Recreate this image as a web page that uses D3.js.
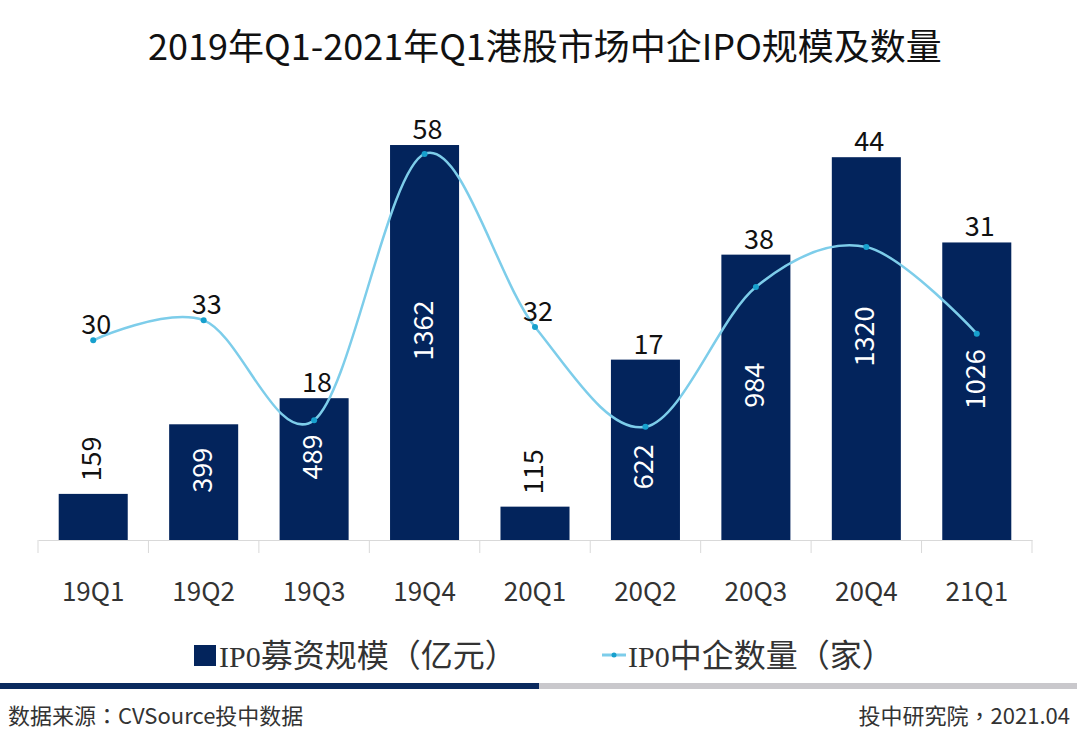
<!DOCTYPE html>
<html><head><meta charset="utf-8">
<script src="https://cdn.jsdelivr.net/npm/d3@7"></script>
<style>
html,body{margin:0;padding:0;background:#fff;}
svg{display:block;font-family:"Noto Sans CJK SC","Noto Sans",sans-serif;}
</style></head>
<body>
<svg id="chart" width="1080" height="741"></svg>
<script>
const title = "2019年Q1-2021年Q1港股市场中企IPO规模及数量";
const categories = ["19Q1","19Q2","19Q3","19Q4","20Q1","20Q2","20Q3","20Q4","21Q1"];
const ipoAmount = [159,399,489,1362,115,622,984,1320,1026];
const ipoCount = [30,33,18,58,32,17,38,44,31];
const legendBar = ["IP0","募资规模（亿元）"];
const legendLine = ["IP0","中企数量（家）"];
const sourceText = "数据来源：CVSource投中数据";
const creditText = "投中研究院，2021.04";

const svg = d3.select("#chart");
const barColor = "#03245c", lineColor = "#7dcdea", dotColor = "#17a0cd";
const x = d3.scaleBand().domain(categories).range([38, 1032]).paddingInner(0.375).paddingOuter(0.1875);
const y1 = d3.scaleLinear().domain([0, 1600]).range([540, 76]);
const y2 = d3.scaleLinear().domain([0, 70]).range([540, 74]);

svg.append("text").attr("x", 545).attr("y", 60).attr("text-anchor","middle")
  .attr("font-size", 36).attr("fill","#111").text(title);

// axis
const xAxis = d3.axisBottom(x).tickSize(0).tickPadding(43);
const gx = svg.append("g").attr("transform","translate(0,540)").call(xAxis);
gx.select(".domain").attr("stroke","#d9d9d9");
gx.selectAll(".tick text").attr("font-size", 26).attr("fill","#333")
  .attr("font-family","'Noto Sans CJK SC','Noto Sans',sans-serif");
const bounds = categories.map(c => x(c) - x.step()*x.paddingInner()/2).concat([x(categories[8]) + x.bandwidth() + x.step()*x.paddingInner()/2]);
svg.append("g").selectAll("line").data(bounds).join("line")
  .attr("x1", d=>d).attr("x2", d=>d).attr("y1",540).attr("y2",553)
  .attr("stroke","#d9d9d9");

// bars
svg.append("g").selectAll("rect").data(ipoAmount).join("rect")
  .attr("x",(d,i)=>x(categories[i])).attr("width",x.bandwidth())
  .attr("y",d=>y1(d)).attr("height",d=>540-y1(d)).attr("fill",barColor);

// bar labels (rotated); inside labels step below the line when they would collide
svg.append("g").selectAll("text").data(ipoAmount).join("text")
  .attr("transform",(d,i)=>{
    const cx = x(categories[i]) + x.bandwidth()/2;
    const inside = (540 - y1(d)) > 100;
    let cy = inside ? (y1(d)+540)/2 - 12 : y1(d) - 35;
    const py = y2(ipoCount[i]);
    if (inside && Math.abs(cy - py) < 30) cy = py + 40;
    return `translate(${cx+8},${cy}) rotate(-90)`;
  })
  .attr("text-anchor","middle").attr("font-size",27)
  .attr("fill",d=> (540 - y1(d)) > 100 ? "#fff" : "#111")
  .text(d=>d);

// line
const line = d3.line().x((d,i)=>x(categories[i])+x.bandwidth()/2).y(d=>y2(d)).curve(d3.curveCardinal.tension(0));
svg.append("path").datum(ipoCount).attr("d",line).attr("fill","none")
  .attr("stroke",lineColor).attr("stroke-width",2.5);
svg.append("g").selectAll("circle").data(ipoCount).join("circle")
  .attr("cx",(d,i)=>x(categories[i])+x.bandwidth()/2).attr("cy",d=>y2(d)).attr("r",3)
  .attr("fill",dotColor);

// count labels
svg.append("g").selectAll("text").data(ipoCount).join("text")
  .attr("x",(d,i)=>x(categories[i])+x.bandwidth()/2 + 3)
  .attr("y",(d,i)=>Math.min(y2(d), y1(ipoAmount[i])) - 6)
  .attr("text-anchor","middle").attr("font-size",27).attr("fill","#111")
  .text(d=>d);

// legend
const lg = svg.append("g");
lg.append("rect").attr("x",194).attr("y",645).attr("width",22).attr("height",21).attr("fill",barColor);
const t1 = lg.append("text").attr("x",219).attr("y",667).attr("font-size",32).attr("fill","#333");
t1.append("tspan").attr("font-family","'Liberation Serif',serif").attr("font-size",30).text(legendBar[0]);
t1.append("tspan").text(legendBar[1]);
lg.append("line").attr("x1",602).attr("x2",626).attr("y1",655).attr("y2",655).attr("stroke",lineColor).attr("stroke-width",3);
lg.append("circle").attr("cx",614).attr("cy",655).attr("r",2.5).attr("fill",dotColor);
const t2 = lg.append("text").attr("x",628).attr("y",667).attr("font-size",32).attr("fill","#333");
t2.append("tspan").attr("font-family","'Liberation Serif',serif").attr("font-size",30).text(legendLine[0]);
t2.append("tspan").text(legendLine[1]);

// footer
svg.append("rect").attr("x",0).attr("y",683).attr("width",539).attr("height",6).attr("fill","#0b2a5e");
svg.append("rect").attr("x",539).attr("y",683).attr("width",538).attr("height",6).attr("fill","#c9c8cc");
svg.append("text").attr("x",8).attr("y",724).attr("font-size",22).attr("fill","#333")
  .attr("font-family","'Noto Sans CJK TC',sans-serif").text(sourceText);
svg.append("text").attr("x",1070).attr("y",724).attr("text-anchor","end").attr("font-size",22).attr("fill","#333")
  .attr("font-family","'Noto Sans CJK TC',sans-serif").text(creditText);
</script>
</body></html>
